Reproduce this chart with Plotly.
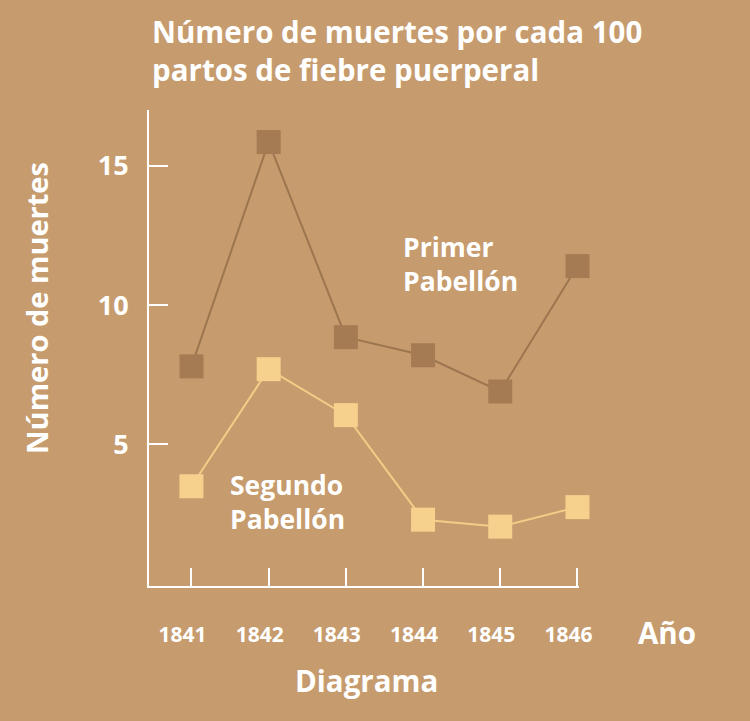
import plotly.graph_objects as go

# datos (muertes por cada 100 partos)
years = [1841, 1842, 1843, 1844, 1845, 1846]
primer = [7.8, 15.85, 8.85, 8.2, 6.9, 11.4]
segundo = [3.5, 7.7, 6.05, 2.3, 2.05, 2.75]
y_ticks = [5, 10, 15]

bg = "#C69B6D"
white = "#FFFFFF"
fnt = "Open Sans"

fig = go.Figure()

fig.add_trace(go.Scatter(
    x=years, y=primer, mode="lines+markers",
    line=dict(color="#9C7650", width=2),
    marker=dict(symbol="square", size=24, color="#A57B53"),
    cliponaxis=False, showlegend=False,
))
fig.add_trace(go.Scatter(
    x=years, y=segundo, mode="lines+markers",
    line=dict(color="#F3CD88", width=2),
    marker=dict(symbol="square", size=24, color="#F5D18D"),
    cliponaxis=False, showlegend=False,
))

fig.update_layout(
    width=750, height=721,
    paper_bgcolor=bg, plot_bgcolor=bg,
    margin=dict(l=149, r=171, t=110, b=135),
    font=dict(family=fnt, color=white),
    title=dict(
        text="<b>Número de muertes por cada 100<br>partos de fiebre puerperal</b>",
        x=152 / 750, xref="container", xanchor="left",
        y=1 - 43 / 721, yref="container", yanchor="top",
        font=dict(size=29.5, color=white, family=fnt),
    ),
)

fig.update_xaxes(
    range=[1840.45, 1846.02], tickvals=years,
    ticktext=[f"<b>{y}</b>" for y in years],
    showgrid=False, zeroline=False,
    showline=True, linecolor=white, linewidth=2,
    ticks="inside", ticklen=18, tickwidth=1.5, tickcolor=white,
    tickfont=dict(size=21, color=white),
    ticklabelshift=-9, ticklabelstandoff=29,
)
fig.update_yaxes(
    range=[-0.08, 17], tickvals=y_ticks,
    ticktext=[f"<b>{v}</b>" for v in y_ticks],
    showgrid=False, zeroline=False,
    showline=True, linecolor=white, linewidth=2,
    ticks="inside", ticklen=19, tickwidth=1.5, tickcolor=white,
    tickfont=dict(size=27, color=white),
    ticklabelstandoff=13,
)

def px_x(p):
    return (p - 149) / 430

def px_y(p):
    return (586 - p) / 476

labels = [
    ("<b>Primer<br>Pabellón</b>", 401, 264, "left", 0, 26.5),
    ("<b>Segundo<br>Pabellón</b>", 228, 502, "left", 0, 26.5),
    ("<b>Año</b>", 667, 632, "center", 0, 29.5),
    ("<b>Diagrama</b>", 366, 680, "center", 0, 29.5),
    ("<b>Número de muertes</b>", 36, 308, "center", -90, 29),
]
for txt, x, y, anchor, ang, size in labels:
    fig.add_annotation(
        text=txt, x=px_x(x), y=px_y(y), xref="paper", yref="paper",
        xanchor=anchor, yanchor="middle", align="left", textangle=ang,
        showarrow=False, font=dict(size=size, color=white, family=fnt),
    )

# quitar el margen blanco de la página
fig.write_html(
    "out.html",
    config={"displayModeBar": False},
    post_script="document.body.style.margin='0';document.body.style.background='%s';" % bg,
)
